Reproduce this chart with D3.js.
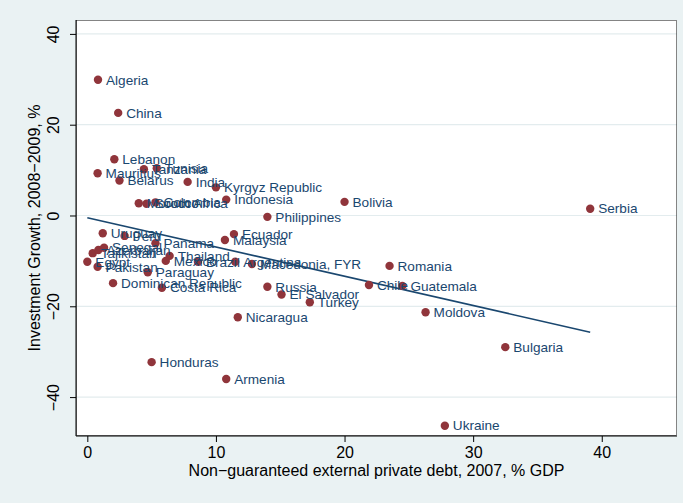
<!DOCTYPE html>
<html><head><meta charset="utf-8">
<script src="https://d3js.org/d3.v7.min.js"></script>
<style>body{margin:0;background:#eaf2f3;}svg{display:block;font-family:"Liberation Sans",Arial,sans-serif;}</style>
</head><body>
<svg id="c" width="683" height="503"></svg>
<script>
const countries = ["Algeria","China","Lebanon","Mauritius","Tanzania","Tunisia","Belarus","India","Kyrgyz Republic","Indonesia","Bolivia","Serbia","Philippines","Morocco","South Africa","Colombia","Ecuador","Malaysia","Uruguay","Peru","Panama","Tajikistan","Azerbaijan","Senegal","Thailand","Mexico","Brazil","Argentina","Macedonia, FYR","Egypt","Pakistan","Paraguay","Dominican Republic","Costa Rica","Russia","El Salvador","Turkey","Nicaragua","Chile","Romania","Guatemala","Moldova","Bulgaria","Ukraine","Armenia","Honduras"];
const debt = [0.83,2.4,2.1,0.8,4.4,5.4,2.5,7.8,10.0,10.8,20.0,39.1,14.0,4.0,4.6,5.3,11.4,10.7,1.2,2.9,5.3,0.42,0.86,1.3,6.4,6.1,8.6,11.5,12.8,0.0,0.8,4.7,2.0,5.8,14.0,15.1,17.3,11.7,21.9,23.5,24.5,26.3,32.5,27.8,10.8,5.0];
const growth = [29.9,22.6,12.4,9.3,10.2,10.4,7.7,7.4,6.2,3.5,3.0,1.5,-0.3,2.7,2.6,2.9,-4.1,-5.4,-3.9,-4.5,-6.1,-8.3,-7.6,-7.1,-8.9,-10.0,-10.2,-10.2,-10.7,-10.2,-11.3,-12.5,-14.9,-15.9,-15.7,-17.4,-19.1,-22.4,-15.3,-11.1,-15.5,-21.3,-29.0,-46.3,-36.0,-32.3];
const xTicks = [0,10,20,30,40];
const yTicks = [-40,-20,0,20,40];
const fitX = [0, 39.1];
const fitY = [-0.5, -25.7];
const xTitle = "Non\u2212guaranteed external private debt, 2007, % GDP";
const yTitle = "Investment Growth, 2008\u22122009, %";

const svg = d3.select("#c");
const L=76,R=677,T=20,B=436;
const x = d3.scaleLinear().domain([-0.88,45.85]).range([L,R]);
const y = d3.scaleLinear().domain([-48.57,43.06]).range([B,T]);
const navy="#1a476f", maroon="#90353b";

svg.append("rect").attr("width",683).attr("height",503).attr("fill","#eaf2f3");
svg.append("rect").attr("x",L).attr("y",T).attr("width",R-L).attr("height",B-T).attr("fill","#fff");
// grid
svg.append("g").selectAll("line").data(yTicks).join("line")
  .attr("x1",L).attr("x2",R).attr("y1",d=>y(d)).attr("y2",d=>y(d))
  .attr("stroke","#e3ecee").attr("stroke-width",1.2);
// border
svg.append("rect").attr("x",L+0.5).attr("y",T+0.5).attr("width",R-L-1).attr("height",B-T-1)
  .attr("fill","none").attr("stroke","#333").attr("stroke-width",0.6);
// axes
const fmt = d=>String(d).replace("-","\u2212");
const xa = svg.append("g").attr("transform",`translate(0,${B})`)
  .call(d3.axisBottom(x).tickValues(xTicks).tickSize(6).tickPadding(4).tickFormat(fmt));
const ya = svg.append("g").attr("transform",`translate(${L},0)`)
  .call(d3.axisLeft(y).tickValues(yTicks).tickSize(6).tickFormat(fmt));
[xa,ya].forEach(a=>{a.select(".domain").remove();a.selectAll("line").attr("stroke","#000");
  a.selectAll("text").attr("font-size",16).attr("fill","#000").attr("font-family","Liberation Sans, Arial, sans-serif");});
xa.selectAll("text").attr("dy","0.75em").attr("y",10);
ya.selectAll("text").attr("transform","translate(-23,0) rotate(-90)").attr("x",0).attr("y",0)
  .attr("dy","0.35em").attr("text-anchor","middle");
svg.append("line").attr("x1",L).attr("x2",R).attr("y1",B).attr("y2",B).attr("stroke","#000");
svg.append("line").attr("x1",L).attr("x2",L).attr("y1",T).attr("y2",B).attr("stroke","#000");

// fit line
svg.append("path").datum(fitX.map((d,i)=>[d,fitY[i]]))
  .attr("d",d3.line().x(d=>x(d[0])).y(d=>y(d[1])))
  .attr("stroke",navy).attr("stroke-width",1.6).attr("fill","none");

const pts = countries.map((c,i)=>({c,x:debt[i],y:growth[i]}));
svg.append("g").selectAll("circle").data(pts).join("circle")
  .attr("cx",d=>x(d.x)).attr("cy",d=>y(d.y)).attr("r",4.2).attr("fill",maroon);
svg.append("g").selectAll("text").data(pts).join("text")
  .attr("x",d=>x(d.x)+8).attr("y",d=>y(d.y)).attr("dy","0.35em")
  .attr("font-size",13.6).attr("fill",navy).text(d=>d.c);

svg.append("text").attr("x",(L+R)/2).attr("y",476).attr("text-anchor","middle")
  .attr("font-size",16).attr("fill","#000").text(xTitle);
svg.append("text").attr("transform",`translate(40,${228}) rotate(-90)`).attr("text-anchor","middle")
  .attr("font-size",16).attr("fill","#000").text(yTitle);
</script>
</body></html>
